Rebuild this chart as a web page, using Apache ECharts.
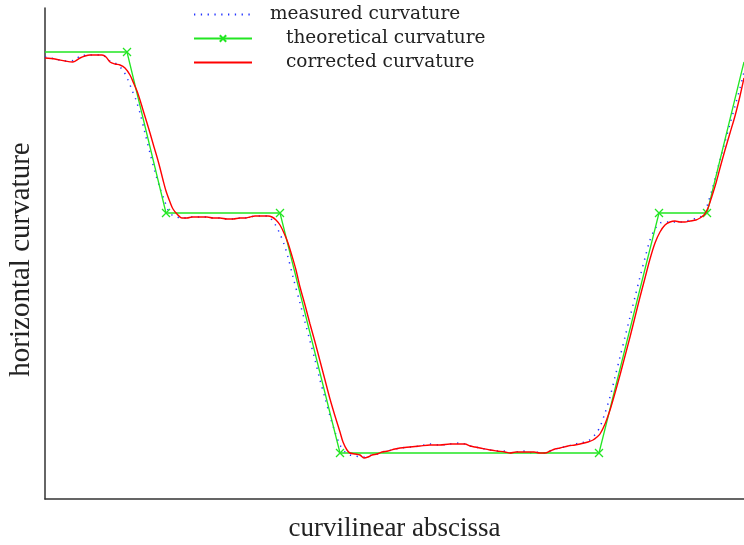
<!DOCTYPE html>
<html><head><meta charset="utf-8">
<script src="https://cdn.jsdelivr.net/npm/echarts@6/dist/echarts.min.js"></script>
<style>html,body{margin:0;padding:0;background:#fff}#c{width:744px;height:545px}</style>
</head><body><div id="c"></div>
<script>
// curvilinear abscissa / curvature values (arbitrary units)
const theoX = [0, 82, 121, 235, 295, 554, 614, 662, 699];
const theoY = [447, 447, 286, 286, 46, 46, 286, 286, 437];

const corrX = [0,10,20,28,35,40,45,51,57,61,65,70,75,80,85,89,92,95,98,102,105,109,112,115,118,121,125,128,132,137,142,147,152,157,162,168,175,182,188,195,200,205,210,215,220,223,227,231,235,239,243,247,251,255,260,265,270,275,280,285,290,295,298,302,305,310,315,319,323,327,332,337,343,350,355,365,375,385,395,405,415,420,425,430,435,445,452,460,465,471,477,483,489,495,500,505,510,515,523,530,535,543,548,552,555,560,565,570,575,580,585,590,595,600,605,610,615,620,625,630,635,640,645,651,655,659,663,667,671,675,680,685,690,695,699];
const corrY = [441,440,438,437,441,443,444,444,444,442,437,435,434,431,424,415,408,399,389,376,366,352,342,331,319,308,297,290,285,281,281,282,282,282,282,281,281,280,280,281,281,282,283,283,283,283,282,279,274,266,256,243,229,212,194,175,157,138,119,100,83,67,57,49,46,45,44,41,42,44,45,47,48,50,51,52,53,54,54,55,55,55,53,52,51,49,48,47,46,47,47,47,47,46,46,48,50,51,53,54,55,57,59,62,65,75,89,106,124,143,162,182,202,221,240,256,267,274,277,278,277,277,278,279,281,284,291,303,316,331,349,366,383,403,421];

const measX = [0,10,20,30,35,45,55,61,65,70,75,79,83,87,91,95,100,105,110,115,120,123,127,132,137,142,147,152,157,162,168,175,182,188,195,200,205,210,215,220,223,227,231,235,239,243,248,255,260,265,270,275,280,285,290,295,300,305,310,319,323,327,332,337,343,350,355,365,375,385,395,405,415,420,425,430,435,445,452,460,465,471,477,483,489,495,500,505,510,515,523,530,535,543,548,552,555,560,565,570,575,580,585,590,595,600,605,610,615,620,625,635,645,655,660,663,667,671,675,680,685,690,695,699];
const measY = [442,440,438,439,443,444,444,442,438,436,432,427,419,409,399,386,366,346,327,311,297,289,284,282,281,281,282,282,282,282,281,281,280,280,281,281,282,283,283,283,283,279,273,265,255,242,222,196,177,158,139,119,101,83,67,54,47,44,43,42,43,44,45,47,48,50,51,52,53,55,54,55,56,55,53,52,51,49,48,48,46,47,48,47,46,47,46,48,50,51,53,55,56,58,62,67,72,86,102,122,142,162,182,202,222,241,259,270,276,277,277,277,279,282,286,296,309,324,339,357,375,393,411,427];

const legendNames = ['measured curvature', 'theoretical curvature', 'corrected curvature'];

const zip = (a, b) => a.map((v, i) => [v, b[i]]);
const theoData = zip(theoX, theoY).map((p, i) =>
  (i === 0 || i === theoX.length - 1) ? {value: p, symbol: 'none'} : {value: p});

const FONT = 'Liberation Serif';
const LFONT = 'DejaVu Serif';
const chart = echarts.init(document.getElementById('c'), null, {renderer: 'canvas'});
const legendBase = {
  orient: 'horizontal', itemWidth: 58, itemHeight: 8, itemGap: 0, padding: 0,
  textStyle: {fontFamily: LFONT, fontSize: 18.5, color: '#222'}
};
const legendText = (pad) => Object.assign({}, legendBase.textStyle, {padding: [0, 0, 0, pad]});
chart.setOption({
  animation: false,
  backgroundColor: '#fff',
  grid: {left: 45, right: 0, top: 8, bottom: 46, containLabel: false, outerBoundsMode: 'none'},
  legend: [
    Object.assign({}, legendBase, {left: 193, top: 5,
      data: [{name: legendNames[0], itemStyle: {opacity: 0}}], textStyle: legendText(13)}),
    Object.assign({}, legendBase, {left: 193, top: 29,
      data: [{name: legendNames[1]}], textStyle: legendText(29)}),
    Object.assign({}, legendBase, {left: 193, top: 53,
      data: [{name: legendNames[2], itemStyle: {opacity: 0}}], textStyle: legendText(29)})
  ],
  xAxis: {
    type: 'value', min: 0, max: 699,
    name: 'curvilinear abscissa', nameLocation: 'middle', nameGap: 16,
    nameTextStyle: {fontFamily: FONT, fontSize: 27, color: '#222', verticalAlign: 'top'},
    axisLine: {show: true, lineStyle: {color: '#333', width: 1.5}},
    axisTick: {show: false}, axisLabel: {show: false}, splitLine: {show: false}
  },
  yAxis: {
    type: 'value', min: 0, max: 491,
    name: 'horizontal curvature', nameLocation: 'middle', nameGap: 9,
    nameTextStyle: {fontFamily: FONT, fontSize: 29, color: '#222', padding: [0, 12, 0, 0]},
    axisLine: {show: true, lineStyle: {color: '#333', width: 1.5}},
    axisTick: {show: false}, axisLabel: {show: false}, splitLine: {show: false}
  },
  series: [
    {
      name: legendNames[0], type: 'line', data: zip(measX, measY),
      showSymbol: false, symbol: 'none', smooth: 0.3,
      lineStyle: {color: '#2233ff', width: 1.5, type: [1.3, 5.5]},
      itemStyle: {color: '#2233ff'}, z: 1
    },
    {
      name: legendNames[1], type: 'line', data: theoData,
      symbol: 'path://M0,0L10,10M10,0L0,10', symbolSize: 8,
      lineStyle: {color: '#22e622', width: 1.3},
      itemStyle: {color: '#22e622', borderColor: '#22e622', borderWidth: 1.3}, z: 2
    },
    {
      name: legendNames[2], type: 'line', data: zip(corrX, corrY),
      showSymbol: false, symbol: 'none', smooth: 0.3,
      lineStyle: {color: '#ff0000', width: 1.4},
      itemStyle: {color: '#ff0000'}, z: 3
    }
  ]
});
</script></body></html>
